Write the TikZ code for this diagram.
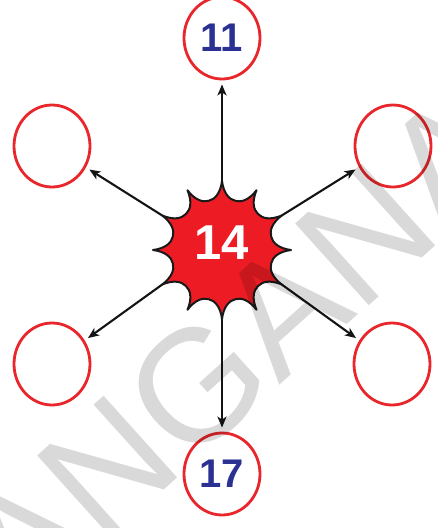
\documentclass[tikz,border=0pt]{standalone}
\usepackage{fontspec}
\setmainfont{Liberation Sans}
\usetikzlibrary{arrows.meta,shapes.geometric}
\definecolor{ringred}{HTML}{E8262B}
\definecolor{splatred}{HTML}{ED1C24}
\definecolor{numblue}{HTML}{2B3192}
\begin{document}
\begin{tikzpicture}[x=1pt,y=-1pt,
  ring/.style={ellipse, draw=ringred, line width=2.8pt, minimum width=76pt, minimum height=82pt, inner sep=0pt, text=numblue, font=\fontsize{40}{40}\selectfont\bfseries},
  spoke/.style={-{Stealth[length=11pt,width=9pt,inset=3pt]}, line width=2.1pt, black!92, shorten >=4pt},
  splat/.style={fill=splatred, draw=black!90, line width=2pt, line join=round},
  mark14/.style={text=white, font=\fontsize{49}{49}\selectfont\bfseries, inner sep=0pt},
  wmark/.style={rotate=42, anchor=base west, inner sep=0pt, text=black, text opacity=0.15, font=\fontsize{160}{160}\selectfont}
]
\useasboundingbox (0,0) rectangle (437,528);
\fill[white] (0,0) rectangle (437,528);
% rings
\node[ring] (n11) at (222,38) {11};
\node[ring] (nul) at (52,146) {};
\node[ring] (nur) at (393,146) {};
\node[ring] (nll) at (52,364) {};
\node[ring] (nlr) at (392,364) {};
\node[ring] (n17) at (222,474) {17};
% splat
\begin{scope}[shift={(222,250)}, y=1pt]
  \foreach \a in {0,30,...,330} \coordinate (s\a) at (\a:69);
  \path[splat] (0:69)
    \foreach \a [evaluate=\a as \m using \a+15,
                 evaluate=\a as \b using \a+30,
                 evaluate=\a as \p using \a+1.5,
                 evaluate=\a as \q using \a+8,
                 evaluate=\a as \r using \a+22,
                 evaluate=\a as \t using \a+28.5] in {0,30,...,330} {
      .. controls (\p:57) and (\q:51) .. (\m:51)
      .. controls (\r:51) and (\t:57) .. (\b:69)
    } -- cycle;
\end{scope}
\node[mark14] (n14) at (222,242.5) {14};
% spokes
\draw[spoke] (s90) -- (n11);
\draw[spoke] (s150) -- (nul);
\draw[spoke] (s30) -- (nur);
\draw[spoke] (s210) -- (nll);
\draw[spoke] (s330) -- (nlr);
\draw[spoke] (s270) -- (n17);
% watermark
\node[wmark] (wm) at (-196,814) {TELANGANA};
\end{tikzpicture}
\end{document}
